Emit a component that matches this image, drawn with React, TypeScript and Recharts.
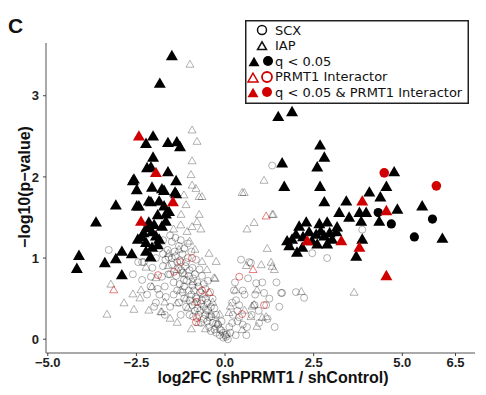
import React from "react";
import { ScatterChart, Scatter, XAxis, YAxis } from "recharts";

// x = log2FC, y = -log10(p)
const sigTriangles = [
  [-1.5, 3.48], [-1.84, 3.14], [-2.03, 2.49], [-2.23, 2.4], [-1.61, 2.41], [-1.36, 2.42],
  [-1.27, 2.36], [-2.03, 2.23], [-2.09, 2.11], [-2.2, 2.1], [-1.61, 2.05], [-1.38, 1.94],
  [-2.6, 1.94], [-2.49, 1.83], [-2.06, 1.86], [-1.78, 1.84], [-1.72, 1.82], [-1.41, 1.8],
  [-3.08, 1.64], [-3.64, 1.43], [-4.12, 1.02], [-4.18, 0.86], [-3.39, 0.93], [-3.08, 0.98],
  [-2.91, 1.07], [-2.91, 0.78], [-2.63, 1.04], [-2.49, 1.63], [-2.09, 1.68], [-1.72, 1.63],
  [-1.58, 1.56], [-1.67, 1.53], [-1.78, 1.38], [-2.2, 1.36], [-2.06, 1.31], [-2.46, 1.22],
  [-2.23, 1.18], [-1.95, 1.26], [-2.23, 1.07], [-1.86, 1.22], [-2.06, 1.12], [-1.67, 1.44],
  [-2.15, 1.43], [-2.57, 1.96], [-2.15, 1.69], [-2.43, 1.63], [-1.86, 1.69], [-1.38, 1.78],
  [-1.9, 1.52], [-2.0, 1.4], [-2.3, 1.3], [-1.9, 1.15], [-2.1, 1.0], [-2.35, 1.25],
  [1.5, 2.73], [1.89, 2.79], [2.68, 2.38], [2.8, 2.23], [1.61, 2.16], [2.6, 2.11],
  [4.77, 2.05], [1.67, 1.87], [2.68, 1.87], [4.55, 1.87], [4.07, 1.8], [4.38, 1.74],
  [3.42, 1.69], [2.8, 1.68], [5.56, 1.63], [4.86, 1.59], [3.98, 1.55], [3.79, 1.55],
  [3.22, 1.55], [3.5, 1.49], [3.84, 1.44], [4.35, 1.44], [6.13, 1.23], [3.87, 1.22],
  [3.7, 1.01], [2.09, 1.38], [2.29, 1.43], [2.66, 1.41], [2.88, 1.43], [3.16, 1.37],
  [1.89, 1.22], [1.81, 1.14], [2.03, 1.06], [2.57, 1.28], [2.8, 1.26], [3.02, 1.22],
  [2.6, 1.16], [2.88, 1.16], [2.37, 1.31], [2.18, 1.12], [3.14, 1.31], [2.0, 1.28],
  [2.45, 1.2], [2.7, 1.32], [2.2, 1.25], [1.75, 1.2], [2.95, 1.3],
];
const sigCircles = [[4.32, 1.56], [4.69, 1.42], [5.85, 1.48], [5.34, 1.26]];
const prmtSigTriangles = [
  [-2.43, 2.49], [-1.95, 2.04], [-1.47, 1.68], [-2.37, 1.44],
  [3.87, 1.69], [4.55, 1.57], [3.28, 1.2], [3.79, 1.12], [4.55, 0.77], [2.32, 1.2],
];
const prmtSigCircles = [[4.49, 2.05], [5.96, 1.89]];
const prmtTriangles = [[1.16, 1.51], [0.79, 0.85], [-0.45, 0.57], [-3.14, 0.6]];
const prmtCircles = [
  [0.4, 0.77], [1.1, 0.42], [0.48, 0.31], [-0.79, 0.46], [-0.93, 1.0], [-1.44, 0.83],
  [-1.89, 0.79], [-0.82, 0.21], [-0.79, 0.26], [-0.65, 0.6], [-1.25, 0.95],
];
const iapTriangles = [
  [-0.99, 3.38], [-0.93, 2.57], [-0.79, 2.43], [-0.93, 2.19], [-0.96, 2.02], [-0.93, 1.89],
  [-0.82, 1.85], [-0.65, 1.75], [1.1, 1.95], [0.48, 1.8], [-1.16, 1.77], [-1.1, 1.65],
  [-0.73, 1.75], [1.33, 1.53], [0.82, 1.43], [0.62, 1.35], [-0.79, 1.44], [-0.93, 1.38],
  [-0.68, 1.35], [-1.07, 1.32], [1.19, 1.11], [1.33, 0.89], [1.02, 0.91], [-0.25, 0.95],
  [-0.51, 0.85], [-0.31, 0.75], [-2.85, 0.44], [-2.57, 0.36], [-1.81, 0.33], [-1.36, 0.44],
  [0.11, 0.32], [0.76, 0.4], [0.9, 0.6], [1.16, 0.27], [0.73, 0.27], [-1.24, 1.53],
  [-0.73, 1.53], [-2.23, 0.88], [-2.37, 0.6], [-3.33, 0.3], [-3.22, 0.67], [-2.06, 0.64],
  [-1.78, 0.33], [-0.28, 0.74], [0.54, 1.8], [1.36, 1.53], [1.3, 0.94], [1.39, 0.85],
  [2.15, 0.58], [3.64, 0.57], [0.82, 0.42], [1.05, 0.26], [0.48, 0.11], [-2.4, 0.5],
  [-1.6, 0.9], [-1.3, 1.1], [-1.0, 1.2], [-0.6, 0.55], [-0.9, 0.7], [-1.1, 0.5],
  [-0.4, 0.3], [-0.2, 0.2], [0.3, 0.6], [0.6, 0.9],
  [-1.8, 1.2], [-1.45, 1.35], [-1.25, 1.4], [-1.6, 1.05], [-1.35, 0.85], [-1.15, 0.8],
  [-1.25, 0.6], [-1.05, 0.38], [-0.85, 0.45], [-0.75, 0.2], [-0.55, 0.12], [-0.35, 0.45],
  [-0.15, 0.3], [0.15, 0.4], [-1.95, 0.75], [-2.15, 0.35], [-1.55, 0.25], [-1.35, 0.2],
  [-0.95, 0.12], [0.55, 0.35], [0.9, 0.15], [-0.65, 0.95], [-0.45, 1.05], [-0.85, 1.1],
  [-1.7, 0.45], [-2.6, 0.55],
];
const scxCircles = [
  [-3.28, 1.1], [-2.34, 0.95], [-2.29, 0.95], [-2.09, 0.77], [-1.78, 0.77], [-1.5, 1.2],
  [-1.59, 1.01], [-1.24, 0.85], [-1.16, 0.73], [-1.02, 0.6], [-0.82, 0.52], [-0.68, 0.44],
  [-0.54, 0.36], [-0.45, 0.27], [-0.25, 0.19], [-0.11, 0.11], [0.0, 0.05], [0.03, 0.03],
  [-0.05, 0.08], [0.25, 0.6], [0.31, 0.48], [0.45, 0.98], [0.68, 0.95], [0.88, 0.69],
  [1.1, 0.57], [1.58, 0.57], [1.53, 0.4], [0.96, 0.2], [0.62, 0.15], [0.4, 0.27],
  [-1.67, 0.52], [-2.0, 0.4], [-2.34, 0.73], [-1.95, 1.0], [-1.5, 1.0], [0.73, 0.94],
  [1.61, 0.57], [2.23, 0.51], [2.46, 1.06], [2.88, 1.0], [3.87, 1.35], [1.16, 0.42],
  [0.83, 0.42], [-1.4, 1.25], [-1.3, 1.15], [-1.2, 1.05], [-1.1, 0.95], [-1.35, 0.95],
  [-1.0, 0.85], [-0.9, 0.75], [-1.15, 0.65], [-0.95, 0.55], [-0.75, 0.65], [-0.7, 0.35],
  [-0.6, 0.25], [-0.85, 0.35], [-1.0, 0.3], [-0.55, 0.5], [-0.4, 0.4], [-0.3, 0.12],
  [-0.15, 0.05], [0.15, 0.08], [0.2, 0.2], [0.35, 0.35], [0.55, 0.55], [0.5, 0.18],
  [0.75, 0.3], [1.05, 0.7], [0.2, 0.45], [-1.7, 0.65], [-1.85, 0.55], [-2.1, 0.65],
  [-1.45, 0.55], [-1.3, 0.45], [-1.55, 0.8], [-1.75, 1.05], [-1.25, 0.3], [-0.45, 0.15],
  [1.2, 0.25], [1.4, 0.15], [0.3, 0.05], [-2.6, 0.8], [-2.2, 0.55], [2.0, 0.58],
  [1.33, 2.14],
  [-1.75, 1.22], [-1.55, 1.28], [-1.25, 1.22], [-1.05, 1.18], [-1.85, 1.12], [-1.62, 1.1],
  [-1.42, 1.08], [-1.15, 1.12], [-0.95, 1.08], [-1.68, 0.98], [-1.4, 1.02], [-1.28, 0.97],
  [-1.05, 1.0], [-0.82, 0.98], [-1.75, 0.9], [-1.5, 0.92], [-1.32, 0.88], [-1.12, 0.9],
  [-0.92, 0.88], [-0.72, 0.86], [-1.6, 0.8], [-1.38, 0.78], [-1.2, 0.82], [-1.02, 0.78],
  [-0.85, 0.8], [-0.65, 0.78], [-1.45, 0.7], [-1.28, 0.68], [-1.08, 0.72], [-0.92, 0.66],
  [-0.78, 0.7], [-0.6, 0.68], [-0.48, 0.72], [-1.35, 0.6], [-1.2, 0.58], [-0.88, 0.6],
  [-0.7, 0.58], [-0.55, 0.62], [-0.42, 0.58], [-1.15, 0.5], [-1.0, 0.48], [-0.8, 0.5],
  [-0.65, 0.48], [-0.5, 0.45], [-0.35, 0.5], [-1.1, 0.4], [-0.92, 0.42], [-0.78, 0.38],
  [-0.6, 0.4], [-0.48, 0.36], [-0.3, 0.38], [-0.9, 0.28], [-0.75, 0.3], [-0.55, 0.3],
  [-0.38, 0.28], [-0.25, 0.3], [-0.68, 0.2], [-0.5, 0.22], [-0.35, 0.2], [-0.2, 0.18],
  [-0.1, 0.22], [-0.4, 0.1], [-0.25, 0.08], [-0.15, 0.12], [-0.05, 0.02], [0.05, 0.06],
  [0.08, 0.0], [0.12, 0.15], [0.22, 0.3], [0.4, 0.42], [0.5, 0.6], [0.28, 0.7],
  [0.65, 0.75], [0.85, 0.55], [1.25, 0.5], [1.45, 0.7], [0.95, 0.35], [0.6, 0.05],
  [0.35, 0.22], [-2.05, 0.88], [-2.45, 0.95], [-1.9, 0.62], [-1.95, 0.45], [-1.55, 0.4],
  [-1.7, 0.3],
];
const xTicks = [-5, -2.5, 0, 2.5, 5, 6.5];
const yTicks = [0, 1, 2, 3];

const toPts = (arr: number[][]) => arr.map(([x, y]) => ({ x, y }));
const RED = "#d10000";

function triPath(cx: number, cy: number, s: number) {
  const h = s * 0.866;
  return `M${cx},${cy - (h * 2) / 3}L${cx - s / 2},${cy + h / 3}L${cx + s / 2},${cy + h / 3}Z`;
}

const tri = (s: number, fill: string, stroke: string, op = 1) => (p: any) =>
  <path d={triPath(p.cx, p.cy, s)} fill={fill} stroke={stroke} strokeOpacity={op} strokeWidth={1} />;
const circ = (r: number, fill: string, stroke: string, op = 1) => (p: any) =>
  <circle cx={p.cx} cy={p.cy} r={r} fill={fill} stroke={stroke} strokeOpacity={op} strokeWidth={1} />;

const fmt = (v: number) => v.toFixed(1).replace("-", "\u2212");

const YTitle = () => (
  <text x={24} y={187} transform="rotate(-90 24 187)" textAnchor="middle" dominantBaseline="central"
    style={{ fontFamily: "Liberation Sans, Arial", fontWeight: 700, fontSize: 16, fill: "#111" }}>
    {"\u2212log10(p\u2212value)"}
  </text>
);
const XTitle = () => (
  <text x={273} y={383} textAnchor="middle"
    style={{ fontFamily: "Liberation Sans, Arial", fontWeight: 700, fontSize: 16, fill: "#111" }}>
    log2FC (shPRMT1 / shControl)
  </text>
);

function LegendBox() {
  const rows: [React.ReactNode, string][] = [
    [<circle cx={17} cy={10} r={4.5} fill="none" stroke="#111" strokeWidth={1.5} />, "SCX"],
    [<path d={triPath(17, 27, 9)} fill="none" stroke="#111" strokeWidth={1.5} />, "IAP"],
    [<g><path d={triPath(9, 43, 11)} fill="#000" /><circle cx={23} cy={41} r={5} fill="#000" /></g>, "q < 0.05"],
    [<g><path d={triPath(8, 59, 10)} fill="none" stroke={RED} strokeWidth={1.5} /><circle cx={22} cy={57} r={5} fill="none" stroke={RED} strokeWidth={1.8} /></g>, "PRMT1 Interactor"],
    [<g><path d={triPath(8, 74, 11)} fill={RED} /><circle cx={22} cy={72} r={5} fill={RED} /></g>, "q < 0.05 & PRMT1 Interactor"],
  ];
  return (
    <svg width={224} height={84} style={{ position: "absolute", left: 245, top: 20 }}>
      <rect x={0.75} y={0.75} width={222.5} height={82.5} fill="#fff" stroke="#222" strokeWidth={1.5} />
      {rows.map(([sym, label], i) => (
        <g key={i}>
          {sym}
          <text x={30} y={10 + i * 15.5} dominantBaseline="central"
            style={{ fontFamily: "DejaVu Sans", fontSize: 13, fill: "#111" }}>{label}</text>
        </g>
      ))}
    </svg>
  );
}

export default function App() {
  const tickStyle = { fontFamily: "Liberation Sans, Arial", fontWeight: 700, fontSize: 13, fill: "#222" };
  return (
    <div style={{ position: "absolute", left: 0, top: 0, width: 486, height: 395, background: "#fff" }}>
      <ScatterChart width={486} height={395} margin={{ top: 43, right: 11, bottom: 0, left: 0 }}>
        <XAxis type="number" dataKey="x" domain={[-5.05, 7.05]} ticks={xTicks} tickFormatter={fmt}
          allowDataOverflow height={42} tick={tickStyle} tickSize={3} tickMargin={2}
          axisLine={{ stroke: "#8c8c8c", strokeWidth: 1.5 }} tickLine={{ stroke: "#444" }} label={<XTitle />} />
        <YAxis type="number" dataKey="y" domain={[-0.17, 3.65]} ticks={yTicks} allowDataOverflow
          width={46} tick={tickStyle} tickSize={3} tickMargin={4}
          axisLine={{ stroke: "#8c8c8c", strokeWidth: 1.5 }} tickLine={{ stroke: "#444" }} label={<YTitle />} />
        <Scatter data={toPts(scxCircles)} shape={circ(3.5, "none", "#000", 0.3)} isAnimationActive={false} />
        <Scatter data={toPts(iapTriangles)} shape={tri(8, "none", "#000", 0.3)} isAnimationActive={false} />
        <Scatter data={toPts(prmtCircles)} shape={circ(3.5, "none", RED, 0.5)} isAnimationActive={false} />
        <Scatter data={toPts(prmtTriangles)} shape={tri(8, "none", RED, 0.5)} isAnimationActive={false} />
        <Scatter data={toPts(sigTriangles)} shape={tri(12, "#000", "none")} isAnimationActive={false} />
        <Scatter data={toPts(sigCircles)} shape={circ(4.6, "#000", "none")} isAnimationActive={false} />
        <Scatter data={toPts(prmtSigTriangles)} shape={tri(12, RED, "none")} isAnimationActive={false} />
        <Scatter data={toPts(prmtSigCircles)} shape={circ(4.8, RED, "none")} isAnimationActive={false} />
      </ScatterChart>
      <div style={{ position: "absolute", left: 8, top: 14, fontFamily: "Liberation Sans, Arial", fontWeight: 700, fontSize: 21, color: "#111" }}>C</div>
      <LegendBox />
    </div>
  );
}
